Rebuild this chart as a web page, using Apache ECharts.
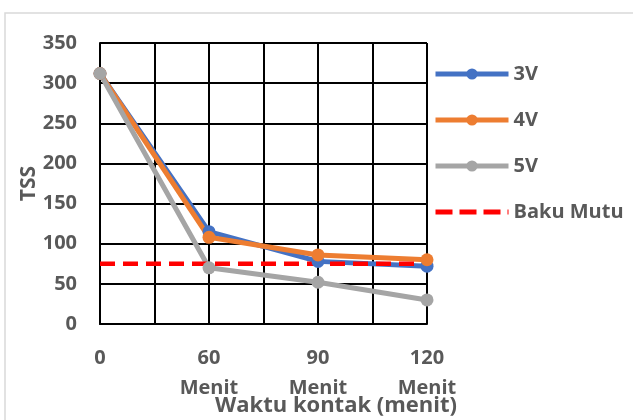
<!DOCTYPE html>
<html>
<head>
<meta charset="utf-8">
<script src="https://cdn.jsdelivr.net/npm/echarts@6/dist/echarts.min.js"></script>
<style>
  html, body { margin: 0; padding: 0; background: #fff; }
  #chart { width: 633px; height: 420px; }
</style>
</head>
<body>
<div id="chart"></div>
<script>
// Contact time categories (blank slots give the intermediate grid columns)
const timeLabels = ['0', '', '60\nMenit', '', '90\nMenit', '', '120\nMenit'];

// TSS readings per applied voltage
const tss3V = [312, null, 115, null, 78, null, 72];
const tss4V = [312, null, 108, null, 86, null, 80];
const tss5V = [312, null, 70, null, 52, null, 30];

// Quality standard (Baku Mutu)
const bakuMutu = [75, 75, 75, 75, 75, 75, 75];

// Y-axis range
const yMin = 0, yMax = 350, yStep = 50;

const textColor = '#595959';
const fontFamily = '"Open Sans", "Noto Sans", sans-serif';

const chart = echarts.init(document.getElementById('chart'), null, { renderer: 'canvas' });

function lineSeries(name, data, color) {
  return {
    name: name,
    type: 'line',
    data: data,
    connectNulls: true,
    symbol: 'circle',
    symbolSize: 13,
    showSymbol: true,
    lineStyle: { color: color, width: 5 },
    itemStyle: { color: color },
    emphasis: { disabled: true },
    animation: false
  };
}

chart.setOption({
  backgroundColor: '#ffffff',
  animation: false,
  grid: { left: 100, right: 206, top: 43, bottom: 96, containLabel: false },
  legend: {
    orient: 'vertical',
    left: 433,
    top: 64,
    padding: 0,
    itemWidth: 73,
    itemHeight: 14,
    itemGap: 26,
    lineStyle: { width: 5 },
    textStyle: { color: textColor, fontSize: 20, fontWeight: 'bold', fontFamily: fontFamily },
    data: [
      '3V',
      '4V',
      '5V',
      {
        name: 'Baku Mutu',
        itemStyle: { color: 'rgba(0,0,0,0)', opacity: 0 },
        lineStyle: { width: 5, type: [17, 7] }
      }
    ]
  },
  xAxis: {
    type: 'category',
    data: timeLabels,
    boundaryGap: false,
    axisLine: { show: true, lineStyle: { color: '#000', width: 2 } },
    axisTick: { show: false },
    splitLine: { show: true, interval: 0, lineStyle: { color: '#000', width: 2 } },
    axisLabel: {
      interval: 0,
      margin: 19,
      color: textColor,
      fontSize: 20,
      fontWeight: 'bold',
      fontFamily: fontFamily,
      lineHeight: 30
    }
  },
  yAxis: {
    type: 'value',
    min: yMin,
    max: yMax,
    interval: yStep,
    name: 'TSS',
    nameLocation: 'middle',
    nameRotate: 90,
    nameGap: 60,
    nameMoveOverlap: false,
    nameTextStyle: { color: textColor, fontSize: 21, fontWeight: 'bold', fontFamily: fontFamily },
    axisLine: { show: true, lineStyle: { color: '#000', width: 2 } },
    axisTick: { show: false },
    splitLine: { show: true, lineStyle: { color: '#000', width: 2 } },
    axisLabel: {
      margin: 23,
      color: textColor,
      fontSize: 20,
      fontWeight: 'bold',
      fontFamily: fontFamily
    }
  },
  graphic: [
    {
      type: 'rect',
      silent: true,
      shape: { x: 5, y: 13, width: 700, height: 500 },
      style: { fill: 'none', stroke: '#d9d9d9', lineWidth: 1.5 }
    },
    {
      type: 'text',
      silent: true,
      x: 336,
      y: 406,
      style: {
        text: 'Waktu kontak (menit)',
        align: 'center',
        verticalAlign: 'middle',
        fill: textColor,
        font: 'bold 22px ' + fontFamily
      }
    }
  ],
  series: [
    lineSeries('3V', tss3V, '#4472C4'),
    lineSeries('4V', tss4V, '#ED7D31'),
    lineSeries('5V', tss5V, '#A5A5A5'),
    {
      name: 'Baku Mutu',
      type: 'line',
      data: bakuMutu,
      symbol: 'none',
      lineStyle: { color: '#FF0000', width: 4.5, type: [15, 8] },
      itemStyle: { color: '#FF0000' },
      emphasis: { disabled: true },
      animation: false
    }
  ]
});
</script>
</body>
</html>
